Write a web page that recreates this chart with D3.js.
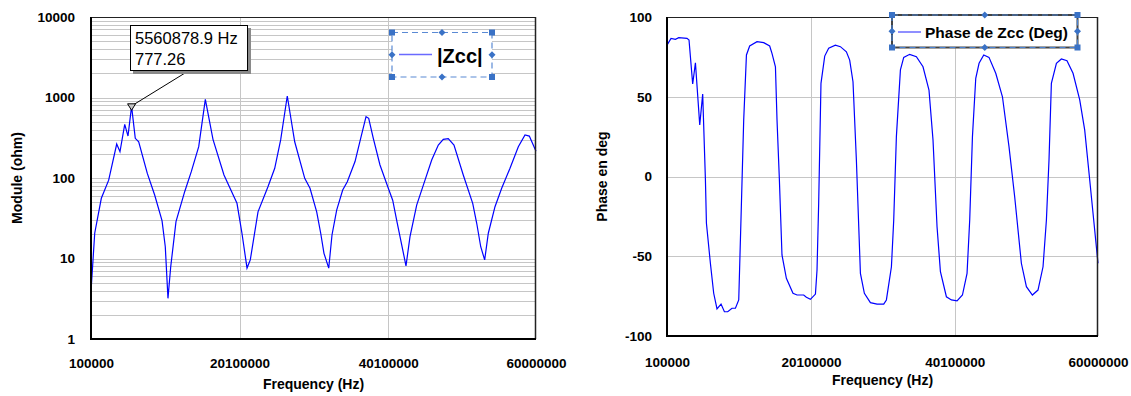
<!DOCTYPE html>
<html>
<head>
<meta charset="utf-8">
<script src="https://cdn.jsdelivr.net/npm/d3@7"></script>
<style>
body { margin: 0; background: #fff; }
text { font-family: Arial, "Liberation Sans", sans-serif; fill: #000; }
.tickLabel { font-weight: bold; font-size: 13.5px; }
.axisTitle { font-weight: bold; font-size: 14px; }
.grid { stroke: #c6c6c6; stroke-width: 1; shape-rendering: crispEdges; }
.curve { fill: none; stroke: #0000ff; stroke-width: 1.2; }
</style>
</head>
<body>
<div id="chart"></div>
<script>

/* DATA: |Zcc| MODULE (ohm) VS FREQUENCY (Hz) */
var zFreq = [100000, 600000, 1490000, 2480000, 3560000, 4000000, 4640000, 5080000, 5560879, 6060000,
    6520000, 7680000, 8670000, 9660000, 10100000, 10460000, 10830000, 11540000, 12710000, 13600000,
    14600000, 15490000, 16520000, 18000000, 19440000, 19750000, 20420000, 21100000, 21540000, 22580000,
    23920000, 24830000, 25630000, 26520000, 27520000, 28870000, 29580000, 30480000, 31020000, 31460000,
    32100000, 32540000, 33170000, 33980000, 34600000, 35640000, 36400000, 37120000, 37480000, 38100000,
    39000000, 40120000, 40710000, 41330000, 42060000, 42500000, 43040000, 43940000, 45060000, 45960000,
    46850000, 47520000, 48190000, 48960000, 50210000, 51480000, 52020000, 52560000, 53090000, 53580000,
    54480000, 55380000, 56500000, 57620000, 58520000, 59100000, 60000000];
var zModule = [3.9, 20.6, 56, 94, 264, 212, 464, 332, 777.26, 311,
    282, 114, 61.5, 29.5, 14, 3.2, 7.9, 28.7, 67.6, 120,
    245, 950, 302, 109, 56, 48.5, 20.6, 7.6, 9.6, 38,
    78, 132, 297, 1044, 282, 99, 74.5, 38, 20.6, 11.6,
    7.6, 19.6, 40, 71, 90, 160, 311, 578, 551, 311,
    145, 74.5, 53, 27.4, 12.8, 8.1, 18.7, 46, 94, 167,
    257, 302, 308, 257, 109, 48.5, 27.4, 14, 9.6, 20.6,
    44, 74.5, 132, 245, 342, 332, 215];

/* DATA: PHASE DE Zcc (deg) VS FREQUENCY (Hz) */
var pFreq = [100000, 660000, 1270000, 1730000, 2880000, 3160000, 3670000, 4050000, 4650000, 5060000,
    5440000, 5580000, 6130000, 6590000, 7050000, 7610000, 8080000, 8540000, 9130000, 9610000,
    10070000, 10380000, 10760000, 11140000, 11590000, 12610000, 13540000, 14370000, 14690000, 15170000,
    15390000, 15720000, 16080000, 16690000, 17610000, 18170000, 19100000, 19470000, 20030000, 20730000,
    20950000, 21180000, 21500000, 22020000, 22570000, 23500000, 24200000, 25030000, 25490000, 25950000,
    26420000, 26980000, 27530000, 28370000, 29290000, 30220000, 30590000, 31290000, 31610000, 31980000,
    32540000, 33000000, 33830000, 34760000, 35680000, 36510000, 37070000, 37630000, 38100000, 38930000,
    39630000, 40410000, 41160000, 41800000, 42170000, 42550000, 43010000, 43470000, 44120000, 44850000,
    45790000, 46720000, 47630000, 48420000, 49350000, 50050000, 50880000, 51660000, 52360000, 52830000,
    53190000, 53520000, 54220000, 54910000, 55690000, 56530000, 57460000, 58150000, 58850000, 60000000];
var pDeg = [82.4, 86.6, 86, 87, 86.6, 85.6, 58, 71.3, 32.3, 51.7,
    -2.2, -29.3, -54.4, -73.2, -83, -80, -84.8, -84.8, -82.6, -82.6,
    -77.4, -27.3, 35.4, 76.2, 81.8, 84.5, 83.9, 81.8, 77.2, 68.8,
    35.4, -2.2, -49.2, -63.8, -73.2, -74.3, -74.3, -75.7, -77, -73.7,
    -58.6, -16.8, 58.4, 75.5, 80.4, 82.3, 81.4, 78.2, 73, 59.4,
    10.3, -60.7, -73.2, -79.1, -80, -80, -77.4, -56.6, -27.3, 25,
    66.8, 74.7, 76.6, 75.1, 68.8, 54.2, 22.9, -31.5, -59.7, -75.4,
    -77.4, -78, -74.3, -60.7, -27.3, 25, 61.6, 71, 76.2, 74.7,
    64.7, 50, 18.7, -12.7, -54.4, -69.1, -74.3, -71.2, -56.6, -27.3,
    10.3, 58.4, 71, 73.7, 72.6, 64.7, 48, 29.2, -2.2, -54.4];

/* TICKS */
var freqTicks = [100000, 20100000, 40100000, 60000000];
var moduleTicks = [1, 10, 100, 1000, 10000];
var phaseTicks = [-100, -50, 0, 50, 100];

/* ANNOTATED POINT */
var markFreq = 5560878.9;
var markValue = 777.26;

/* SVG CANVAS */
var width = 1131;
var height = 396;
var svg = d3.select("#chart")
    .append("svg")
    .attr("width", width)
    .attr("height", height);

var zData = zFreq.map(function(f, i) { return {f: f, v: zModule[i]}; });
var pData = pFreq.map(function(f, i) { return {f: f, v: pDeg[i]}; });

// plain hyphen minus like the original, not d3's unicode minus
var plain = function(d) { return String(d); };

/* HELPERS */
function frame(x0, x1, y0, y1) {
    svg.append("line").attr("x1", x0).attr("x2", x1).attr("y1", y0 + 0.5).attr("y2", y0 + 0.5)
        .attr("stroke", "#222").attr("stroke-width", 1);
    svg.append("line").attr("x1", x1 - 0.5).attr("x2", x1 - 0.5).attr("y1", y0).attr("y2", y1)
        .attr("stroke", "#222").attr("stroke-width", 1.5);
    svg.append("line").attr("x1", x0).attr("x2", x1).attr("y1", y1).attr("y2", y1)
        .attr("stroke", "#000").attr("stroke-width", 2);
    svg.append("line").attr("x1", x0).attr("x2", x0).attr("y1", y0).attr("y2", y1 + 1)
        .attr("stroke", "#000").attr("stroke-width", 2);
}

function handles(x0, y0, w, h) {
    var corners = [[x0, y0], [x0 + w, y0], [x0, y0 + h], [x0 + w, y0 + h]];
    var mids = [[x0 + w / 2, y0], [x0 + w / 2, y0 + h], [x0, y0 + h / 2], [x0 + w, y0 + h / 2]];
    corners.forEach(function(c) {
        svg.append("rect").attr("x", c[0] - 3).attr("y", c[1] - 3)
            .attr("width", 6).attr("height", 6).attr("fill", "#3a72c6");
    });
    mids.forEach(function(c) {
        svg.append("path")
            .attr("d", "M" + c[0] + "," + (c[1] - 3.5) + "L" + (c[0] + 3.5) + "," + c[1] +
                "L" + c[0] + "," + (c[1] + 3.5) + "L" + (c[0] - 3.5) + "," + c[1] + "Z")
            .attr("fill", "#3a72c6");
    });
}

function styleAxis(g) {
    g.select(".domain").remove();
    g.selectAll(".tick line").remove();
    g.selectAll("text").attr("class", "tickLabel");
}

/* LEFT CHART: MODULE */
var xL = d3.scaleLinear().domain([100000, 60000000]).range([91, 536]);
var yL = d3.scaleLog().domain([1, 10000]).range([339, 17]);

var minor = [];
moduleTicks.slice(0, 4).forEach(function(t) {
    for (var m = 1; m < 10; m++) { minor.push(t * m); }
});
svg.selectAll(".gridL")
    .data(minor.filter(function(d) { return d > 1; }))
    .enter()
    .append("line")
        .attr("class", "grid")
        .attr("x1", 91).attr("x2", 536)
        .attr("y1", function(d) { return Math.round(yL(d)) + 0.5; })
        .attr("y2", function(d) { return Math.round(yL(d)) + 0.5; });
svg.selectAll(".gridLv")
    .data(freqTicks.slice(1, 3))
    .enter()
    .append("line")
        .attr("class", "grid")
        .attr("x1", function(d) { return Math.round(xL(d)) + 0.5; })
        .attr("x2", function(d) { return Math.round(xL(d)) + 0.5; })
        .attr("y1", 17).attr("y2", 339);

svg.append("path")
    .datum(zData)
    .attr("class", "curve")
    .attr("d", d3.line()
        .x(function(d) { return xL(d.f); })
        .y(function(d) { return yL(d.v); }));

frame(91, 536, 17, 339);

svg.append("g")
    .attr("transform", "translate(91,0)")
    .call(d3.axisLeft(yL).tickValues(moduleTicks).tickFormat(plain).tickSize(0).tickPadding(16))
    .call(styleAxis);
svg.append("g")
    .attr("transform", "translate(0,339)")
    .call(d3.axisBottom(xL).tickValues(freqTicks).tickFormat(plain).tickSize(0).tickPadding(19.5))
    .call(styleAxis);

svg.append("text").attr("class", "axisTitle")
    .attr("x", 313.5).attr("y", 389).attr("text-anchor", "middle")
    .text("Frequency (Hz)");
svg.append("text").attr("class", "axisTitle")
    .attr("transform", "translate(22,178) rotate(-90)").attr("text-anchor", "middle")
    .text("Module (ohm)");

/* ANNOTATION */
var mx = xL(markFreq);
var my = yL(markValue);
svg.append("line")
    .attr("x1", 185).attr("y1", 73).attr("x2", mx + 1).attr("y2", my - 1)
    .attr("stroke", "#000").attr("stroke-width", 1);
svg.append("path")
    .attr("d", "M" + (mx - 4) + "," + (my - 2.5) + "L" + (mx + 4) + "," + (my - 2.5) + "L" + mx + "," + (my + 4) + "Z")
    .attr("fill", "#c8c8c8").attr("stroke", "#000").attr("stroke-width", 1);
svg.append("rect").attr("x", 133).attr("y", 28).attr("width", 118).attr("height", 46).attr("fill", "#8a8a8a");
svg.append("rect").attr("x", 130.5).attr("y", 25.5).attr("width", 117).attr("height", 45)
    .attr("fill", "#fff").attr("stroke", "#000").attr("stroke-width", 1);
svg.append("text").attr("x", 135).attr("y", 44).style("font-size", "16.5px")
    .text(d3.format(".1f")(markFreq) + " Hz");
svg.append("text").attr("x", 135).attr("y", 65).style("font-size", "16.5px")
    .text(markValue);

/* LEFT LEGEND */
svg.append("rect").attr("x", 392).attr("y", 32.5).attr("width", 100).attr("height", 44.5)
    .attr("fill", "#fff").attr("stroke", "#5a8ad4").attr("stroke-width", 1.2)
    .attr("stroke-dasharray", "6,4");
svg.append("line").attr("x1", 399).attr("x2", 432).attr("y1", 54.5).attr("y2", 54.5)
    .attr("stroke", "#6a6aff").attr("stroke-width", 1.5);
svg.append("text").attr("x", 437).attr("y", 62.5)
    .style("font-size", "20px").style("font-weight", "bold")
    .text("|Zcc|");
handles(392, 32.5, 100, 44.5);

/* RIGHT CHART: PHASE */
var xR = d3.scaleLinear().domain([100000, 60000000]).range([667, 1098]);
var yR = d3.scaleLinear().domain([-100, 100]).range([336, 17]);

svg.selectAll(".gridR")
    .data(phaseTicks.slice(1, 4))
    .enter()
    .append("line")
        .attr("class", "grid")
        .attr("x1", 667).attr("x2", 1098)
        .attr("y1", function(d) { return Math.round(yR(d)) + 0.5; })
        .attr("y2", function(d) { return Math.round(yR(d)) + 0.5; });
svg.selectAll(".gridRv")
    .data(freqTicks.slice(1, 3))
    .enter()
    .append("line")
        .attr("class", "grid")
        .attr("x1", function(d) { return Math.round(xR(d)) + 0.5; })
        .attr("x2", function(d) { return Math.round(xR(d)) + 0.5; })
        .attr("y1", 17).attr("y2", 336);

svg.append("path")
    .datum(pData)
    .attr("class", "curve")
    .attr("d", d3.line()
        .x(function(d) { return xR(d.f); })
        .y(function(d) { return yR(d.v); }));

frame(667, 1098, 17, 336);

svg.append("g")
    .attr("transform", "translate(667,0)")
    .call(d3.axisLeft(yR).tickValues(phaseTicks).tickFormat(plain).tickSize(0).tickPadding(15))
    .call(styleAxis);
svg.append("g")
    .attr("transform", "translate(0,336)")
    .call(d3.axisBottom(xR).tickValues(freqTicks).tickFormat(plain).tickSize(0).tickPadding(21))
    .call(styleAxis);

svg.append("text").attr("class", "axisTitle")
    .attr("x", 882.5).attr("y", 385).attr("text-anchor", "middle")
    .text("Frequency (Hz)");
svg.append("text").attr("class", "axisTitle")
    .attr("transform", "translate(607,176.5) rotate(-90)").attr("text-anchor", "middle")
    .text("Phase en deg");

/* RIGHT LEGEND */
svg.append("rect").attr("x", 892).attr("y", 15).attr("width", 185.5).attr("height", 32.5)
    .attr("fill", "#fff").attr("stroke", "#444").attr("stroke-width", 2);
svg.append("rect").attr("x", 892).attr("y", 15).attr("width", 185.5).attr("height", 32.5)
    .attr("fill", "none").attr("stroke", "#4a82d0").attr("stroke-width", 1.2)
    .attr("stroke-dasharray", "6,4");
svg.append("line").attr("x1", 898).attr("x2", 921).attr("y1", 32).attr("y2", 32)
    .attr("stroke", "#6a6aff").attr("stroke-width", 1.5);
svg.append("text").attr("x", 925).attr("y", 37.5)
    .style("font-size", "15.5px").style("font-weight", "bold")
    .text("Phase de Zcc (Deg)");
handles(892, 15, 185.5, 32.5);

</script>
</body>
</html>
